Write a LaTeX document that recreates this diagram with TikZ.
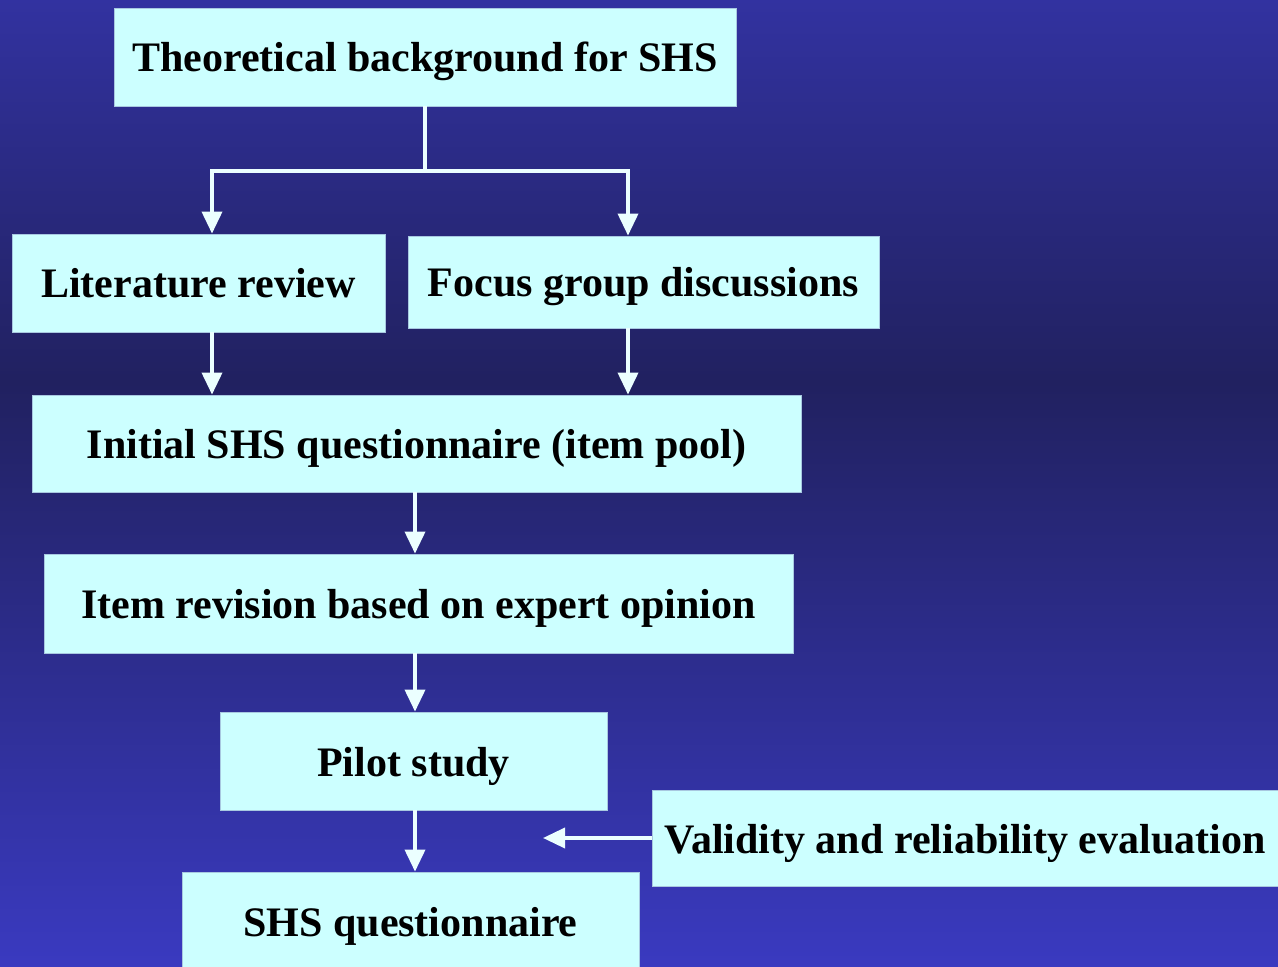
\documentclass[tikz,border=0pt]{standalone}
\usepackage{fontspec}
\setmainfont{Liberation Serif}
\usetikzlibrary{arrows.meta}
\definecolor{bgtop}{HTML}{3232A0}
\definecolor{bgmid}{HTML}{212160}
\definecolor{bgbot}{HTML}{3A3AC0}
\definecolor{boxcyan}{HTML}{CCFFFF}
\definecolor{boxedge}{HTML}{A8C8E0}
\begin{document}
\begin{tikzpicture}[
   x=0.5pt,y=-0.5pt,
   font=\fontsize{21}{25}\selectfont\bfseries,
   stage/.style={draw=boxedge,line width=0.4pt,fill=boxcyan,inner sep=0pt,minimum height=49pt,text height=18pt,text depth=3pt},
   to/.style={-{Triangle[width=10pt,length=11pt]},draw=boxcyan!40!white,line width=1.8pt},
   every node/.style={text=black}]
% background
\useasboundingbox (0,0) rectangle (1278,967);
\shade[top color=bgtop,bottom color=bgmid] (0,0) rectangle (1278,382);
\shade[top color=bgmid,bottom color=bgbot] (0,382) rectangle (1278,967);
% stages
\node[stage,minimum width=311pt] (theory) at (425,57) {Theoretical background for SHS};
\node[stage,minimum width=186.5pt] (litrev) at (198.5,283) {Literature review};
\node[stage,minimum width=235.5pt,minimum height=46pt] (focus) at (643.5,282) {Focus group discussions};
\node[stage,minimum width=384.5pt,minimum height=48.5pt] (initial) at (416.5,443.5) {Initial SHS questionnaire (item pool)};
\node[stage,minimum width=374.5pt,minimum height=49.5pt] (revision) at (418.5,603.5) {Item revision based on expert opinion};
\node[stage,minimum width=193.5pt] (pilot) at (413.5,761) {Pilot study};
\node[stage,minimum width=228.5pt] (final) at (410.5,921) {SHS questionnaire};
\node[stage,minimum width=313pt,minimum height=48pt] (validity) at (965,838) {Validity and reliability evaluation};
% arrow columns
\coordinate (lcol) at (212,171);
\coordinate (rcol) at (628,171);
\coordinate (spine) at (415,0);
\coordinate (join) at (543,838);
\draw[to] (theory.south) |- (lcol) -- (litrev.north -| lcol);
\draw[to] (theory.south) |- (rcol) -- (focus.north -| rcol);
\draw[to] (litrev.south -| lcol) -- (initial.north -| lcol);
\draw[to] (focus.south -| rcol) -- (initial.north -| rcol);
\draw[to] (initial.south -| spine) -- (revision.north -| spine);
\draw[to] (revision.south -| spine) -- (pilot.north -| spine);
\draw[to] (pilot.south -| spine) -- (final.north -| spine);
\draw[to] (validity.west) -- (join);
\end{tikzpicture}
\end{document}
